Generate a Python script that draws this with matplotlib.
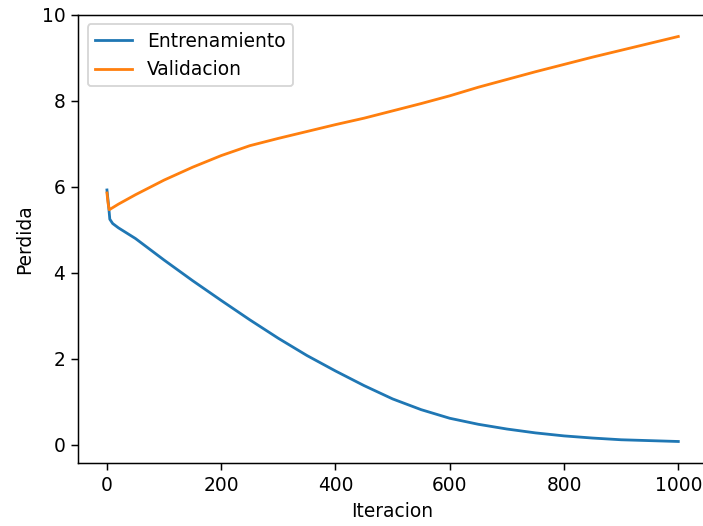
import numpy as np
import matplotlib
matplotlib.use('Agg')
import matplotlib.pyplot as plt

# values
iter_train = [0, 3, 5, 10, 20, 50, 100, 150, 200, 250, 300, 350, 400, 450,
              500, 550, 600, 650, 700, 750, 800, 850, 900, 950, 1000]
loss_train = [5.93, 5.55, 5.25, 5.15, 5.05, 4.80, 4.30, 3.82, 3.36, 2.91, 2.48,
              2.08, 1.72, 1.38, 1.07, 0.82, 0.62, 0.48, 0.37, 0.28, 0.21,
              0.16, 0.12, 0.10, 0.08]

iter_val = [0, 2, 4, 20, 50, 100, 150, 200, 250, 300, 350, 400, 450, 500, 550,
            600, 650, 700, 750, 800, 850, 900, 950, 1000]
loss_val = [5.86, 5.62, 5.47, 5.6, 5.82, 6.16, 6.46, 6.73, 6.96, 7.13, 7.29,
            7.45, 7.60, 7.77, 7.94, 8.12, 8.32, 8.50, 8.68, 8.85, 9.02, 9.18,
            9.34, 9.50]

fig = plt.figure(figsize=(703 / 134, 526 / 134), dpi=134)
ax = fig.add_axes([0.1115, 0.1198, 0.894, 0.8517])

ax.plot(iter_train, loss_train, label='Entrenamiento')
ax.plot(iter_val, loss_val, label='Validacion')

ax.set_ylim(-0.42, 10.0)
ax.set_xlabel('Iteracion')
ax.set_ylabel('Perdida')
ax.legend(loc='upper left')

fig.savefig('out.png', dpi=134)
